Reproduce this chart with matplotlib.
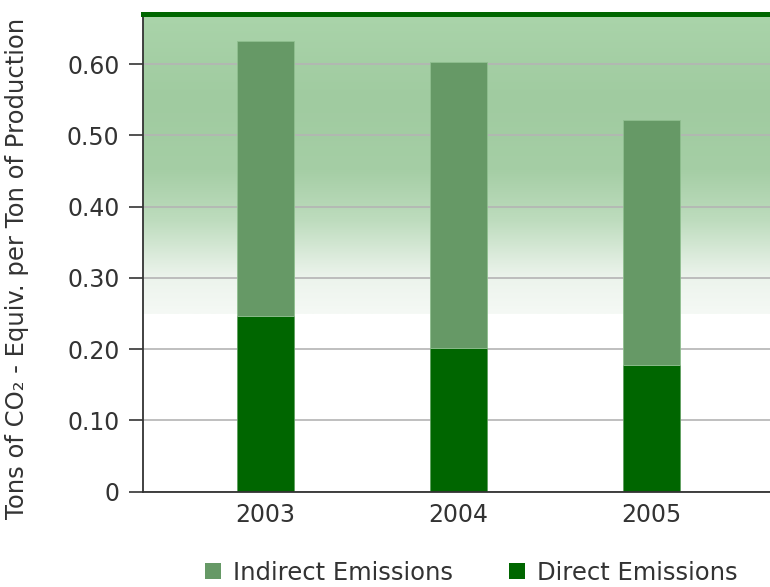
import numpy as np
import matplotlib
matplotlib.use("Agg")
import matplotlib.pyplot as plt
from matplotlib.colors import LinearSegmentedColormap
from matplotlib.patches import Patch

# Emission intensity per year (tons CO2-equiv. per ton of production)
years = ["2003", "2004", "2005"]
direct = [0.247, 0.201, 0.178]
indirect = [0.385, 0.402, 0.343]
y_ticks = [0, 0.10, 0.20, 0.30, 0.40, 0.50, 0.60]
y_tick_labels = ["0", "0.10", "0.20", "0.30", "0.40", "0.50", "0.60"]

C_INDIRECT = "#669966"
C_DIRECT = "#006600"
C_TEXT = "#333333"

plt.rcParams["font.family"] = ["DejaVu Sans"]

fig = plt.figure(figsize=(7.7, 5.87), dpi=100)
ax = fig.add_axes([0.1857, 0.1624, 0.8143, 0.8134])

x = np.arange(len(years))
xlim = (-0.635, 2.614)
ylim = (0, 0.67)

# Soft green band behind the upper part of the plot
stops = [(0.0, (245, 249, 245)), (0.12, (236, 244, 236)), (0.17, (225, 238, 225)),
         (0.31, (190, 220, 190)), (0.48, (165, 206, 165)), (0.72, (160, 203, 160)),
         (1.0, (170, 212, 170))]
cmap = LinearSegmentedColormap.from_list(
    "band", [(p, tuple(c / 255 for c in rgb)) for p, rgb in stops])
grad = np.linspace(0, 1, 256).reshape(-1, 1)
ax.imshow(grad, cmap=cmap, origin="lower", aspect="auto",
          extent=[xlim[0], xlim[1], 0.25, ylim[1]], zorder=0)

bar_w = 0.295
ax.bar(x, direct, width=bar_w, color=C_DIRECT, edgecolor="#5f9f5f",
       linewidth=0.6, zorder=2)
ax.bar(x, indirect, width=bar_w, bottom=direct, color=C_INDIRECT,
       edgecolor="#8fbf8f", linewidth=0.6, zorder=2)

ax.set_xlim(*xlim)
ax.set_ylim(*ylim)
ax.set_xticks(x)
ax.set_xticklabels(years)
ax.set_yticks(y_ticks)
ax.set_yticklabels(y_tick_labels)

ax.yaxis.grid(True, color="#b4b4b4", linewidth=1.2, zorder=1)
ax.set_axisbelow(True)

ax.tick_params(axis="y", length=10, width=1.2, color=C_TEXT, pad=7,
               labelsize=17, labelcolor=C_TEXT)
ax.tick_params(axis="x", length=0, pad=8, labelsize=17, labelcolor=C_TEXT)

ax.spines["right"].set_visible(False)
ax.spines["left"].set_color(C_TEXT)
ax.spines["left"].set_linewidth(1.3)
ax.spines["bottom"].set_color(C_TEXT)
ax.spines["bottom"].set_linewidth(1.3)
ax.spines["top"].set_color(C_DIRECT)
ax.spines["top"].set_linewidth(3.6)

ax.set_ylabel("Tons of CO\u2082 - Equiv. per Ton of Production",
              fontsize=17.5, color=C_TEXT)
ax.yaxis.set_label_coords(-0.182, 0.468)

handles = [Patch(facecolor=C_INDIRECT, label="Indirect Emissions"),
           Patch(facecolor=C_DIRECT, label="Direct Emissions")]
leg = fig.legend(handles=handles, loc="center", bbox_to_anchor=(0.612, 0.024),
                 ncol=2, frameon=False, fontsize=17.5, handlelength=0.65,
                 handleheight=0.65, handletextpad=0.5, columnspacing=2.3)
for t in leg.get_texts():
    t.set_color(C_TEXT)

fig.savefig("out.png", dpi=100)
